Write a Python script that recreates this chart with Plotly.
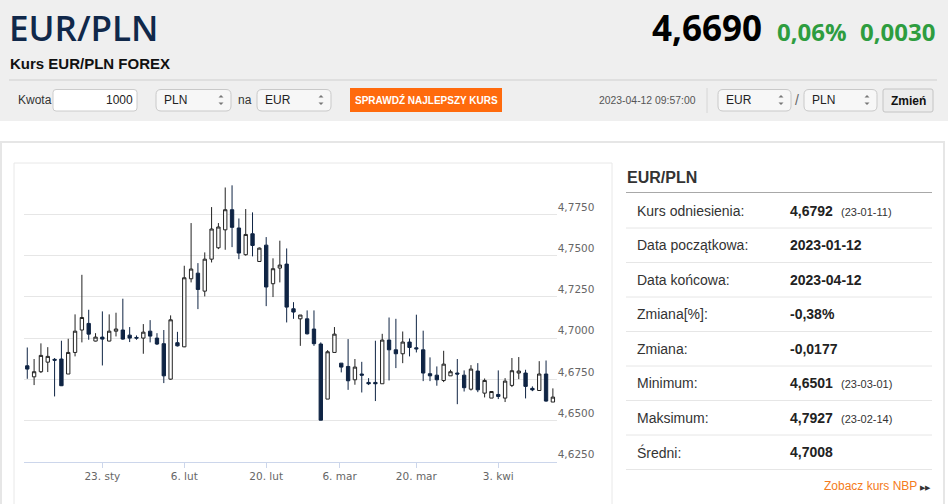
import numpy as np
import plotly.graph_objects as go

W, H = 948, 504

# ─────────────────────────────────────────────
# DANE
# ─────────────────────────────────────────────

DATES = [
    "2023-01-10", "2023-01-11", "2023-01-12", "2023-01-13", "2023-01-15", "2023-01-16",
    "2023-01-17", "2023-01-18", "2023-01-19", "2023-01-20", "2023-01-22", "2023-01-23",
    "2023-01-24", "2023-01-25", "2023-01-26", "2023-01-27", "2023-01-29", "2023-01-30",
    "2023-01-31", "2023-02-01", "2023-02-02", "2023-02-03", "2023-02-05", "2023-02-06",
    "2023-02-07", "2023-02-08", "2023-02-09", "2023-02-10", "2023-02-12", "2023-02-13",
    "2023-02-14", "2023-02-15", "2023-02-16", "2023-02-17", "2023-02-19", "2023-02-20",
    "2023-02-21", "2023-02-22", "2023-02-23", "2023-02-24", "2023-02-26", "2023-02-27",
    "2023-02-28", "2023-03-01", "2023-03-02", "2023-03-03", "2023-03-07", "2023-03-08",
    "2023-03-09", "2023-03-10", "2023-03-12", "2023-03-13", "2023-03-14", "2023-03-15",
    "2023-03-16", "2023-03-17", "2023-03-19", "2023-03-20", "2023-03-21", "2023-03-22",
    "2023-03-23", "2023-03-24", "2023-03-26", "2023-03-27", "2023-03-28", "2023-03-29",
    "2023-03-30", "2023-03-31", "2023-04-02", "2023-04-03", "2023-04-04", "2023-04-05",
    "2023-04-06", "2023-04-07", "2023-04-09", "2023-04-10", "2023-04-11", "2023-04-12",
]

OPEN = [
    4.6832, 4.6765, 4.6796, 4.6854, 4.6871, 4.6873, 4.6782, 4.6913, 4.7049, 4.7089,
    4.6982, 4.7006, 4.6982, 4.7042, 4.7049, 4.7018, 4.7004, 4.7000, 4.7042, 4.7000,
    4.6966, 4.6751, 4.6972, 4.6947, 4.7360, 4.7394, 4.7285, 4.7479, 4.7548, 4.7657,
    4.7779, 4.7668, 4.7506, 4.7633, 4.7465, 4.7564, 4.7330, 4.7425, 4.7449, 4.7178,
    4.7117, 4.7117, 4.7055, 4.6964, 4.6630, 4.6913, 4.6848, 4.6828, 4.6747, 4.6782,
    4.6731, 4.6731, 4.6723, 4.6988, 4.6929, 4.6905, 4.6976, 4.6941, 4.6929, 4.6784,
    4.6775, 4.6743, 4.6771, 4.6788, 4.6775, 4.6690, 4.6800, 4.6666, 4.6636, 4.6658,
    4.6636, 4.6713, 4.6788, 4.6788, 4.6695, 4.6682, 4.6782, 4.6612,
]
HIGH = [
    4.6943, 4.6873, 4.6968, 4.6945, 4.6879, 4.6984, 4.6996, 4.7144, 4.7384, 4.7172,
    4.7030, 4.7162, 4.7144, 4.7154, 4.7239, 4.7067, 4.7016, 4.7085, 4.7109, 4.7030,
    4.7049, 4.7138, 4.7038, 4.7439, 4.7698, 4.7455, 4.7520, 4.7795, 4.7698, 4.7914,
    4.7927, 4.7726, 4.7783, 4.7763, 4.7550, 4.7613, 4.7484, 4.7591, 4.7544, 4.7218,
    4.7140, 4.7168, 4.7168, 4.6974, 4.6927, 4.7067, 4.6848, 4.6994, 4.6873, 4.6856,
    4.6757, 4.6984, 4.7026, 4.7125, 4.7117, 4.7040, 4.6998, 4.7142, 4.7045, 4.6883,
    4.6828, 4.6923, 4.6808, 4.6873, 4.6804, 4.6836, 4.6848, 4.6755, 4.6676, 4.6804,
    4.6757, 4.6879, 4.6885, 4.6808, 4.6707, 4.6860, 4.6864, 4.6695,
]
LOW = [
    4.6753, 4.6715, 4.6788, 4.6794, 4.6646, 4.6709, 4.6782, 4.6889, 4.6974, 4.6990,
    4.6980, 4.6834, 4.6980, 4.7010, 4.6990, 4.6976, 4.6990, 4.6905, 4.6974, 4.6958,
    4.6727, 4.6747, 4.6949, 4.6945, 4.7338, 4.7176, 4.7253, 4.7459, 4.7540, 4.7536,
    4.7552, 4.7479, 4.7500, 4.7496, 4.7463, 4.7194, 4.7249, 4.7338, 4.7095, 4.7117,
    4.6953, 4.7022, 4.6953, 4.6501, 4.6630, 4.6913, 4.6792, 4.6686, 4.6717, 4.6670,
    4.6715, 4.6618, 4.6723, 4.6743, 4.6818, 4.6848, 4.6889, 4.6913, 4.6739, 4.6739,
    4.6711, 4.6733, 4.6771, 4.6599, 4.6676, 4.6682, 4.6672, 4.6640, 4.6636, 4.6630,
    4.6612, 4.6703, 4.6751, 4.6634, 4.6678, 4.6682, 4.6614, 4.6612,
]
CLOSE = [
    4.6812, 4.6796, 4.6895, 4.6889, 4.6866, 4.6711, 4.6913, 4.7042, 4.7125, 4.7024,
    4.7006, 4.6994, 4.7042, 4.7055, 4.6994, 4.7000, 4.7000, 4.7036, 4.7012, 4.6964,
    4.6771, 4.7111, 4.6953, 4.7366, 4.7419, 4.7295, 4.7479, 4.7662, 4.7674, 4.7779,
    4.7672, 4.7516, 4.7629, 4.7562, 4.7546, 4.7310, 4.7421, 4.7443, 4.7188, 4.7158,
    4.7140, 4.7026, 4.6966, 4.6502, 4.6917, 4.7024, 4.6824, 4.6741, 4.6824, 4.6775,
    4.6723, 4.6723, 4.6988, 4.6929, 4.6905, 4.6976, 4.6943, 4.6935, 4.6788, 4.6771,
    4.6747, 4.6842, 4.6796, 4.6782, 4.6699, 4.6812, 4.6686, 4.6743, 4.6676, 4.6646,
    4.6739, 4.6802, 4.6800, 4.6707, 4.6686, 4.6782, 4.6618, 4.6642,
]

TICK_DATES = ["2023-01-23", "2023-02-06", "2023-02-20", "2023-03-06", "2023-03-20", "2023-04-03"]
TICK_TEXT = ["23. sty", "6. lut", "20. lut", "6. mar", "20. mar", "3. kwi"]
Y_TICKS = [4.625, 4.650, 4.675, 4.700, 4.725, 4.750, 4.775, 4.800]
Y_TEXT = ["4,6250", "4,6500", "4,6750", "4,7000", "4,7250", "4,7500", "4,7750", ""]

PARA = "EUR/PLN"
KURS = "4,6690"
ZMIANA_PROC = "0,06%"
ZMIANA_ABS = "0,0030"
CZAS = "2023-04-12 09:57:00"

ETYKIETY = ["Kurs odniesienia:", "Data początkowa:", "Data końcowa:", "Zmiana[%]:",
            "Zmiana:", "Minimum:", "Maksimum:", "Średni:"]
WARTOSCI = ["4,6792", "2023-01-12", "2023-04-12", "-0,38%", "-0,0177", "4,6501", "4,7927", "4,7008"]
DATY = ["(23-01-11)", "", "", "", "", "(23-03-01)", "(23-02-14)", ""]

ARIAL = "Liberation Sans, Arial, sans-serif"
OPEN_SANS = "Open Sans, sans-serif"
HC = "DejaVu Sans, Verdana, sans-serif"
OS_KOLOR = "#ccd6eb"
GRANAT = "#10284a"
ZIELONY = "#2e9d3f"


# ─────────────────────────────────────────────
# POMOCNICZE (piksele -> paper)
# ─────────────────────────────────────────────

def fx(x):
    return x / W


def fy(y):
    return 1 - y / H


shapes = []
annotations = []


def rect(x0, y0, x1, y1, fill, line=None, lw=1):
    shapes.append(dict(
        type="rect", xref="paper", yref="paper", layer="below",
        x0=fx(x0), x1=fx(x1), y0=fy(y1), y1=fy(y0),
        fillcolor=fill, line=dict(color=line or "rgba(0,0,0,0)", width=lw if line else 0),
    ))


def rrect(x0, y0, x1, y1, r, fill, line):
    p = (f"M{fx(x0 + r)},{fy(y0)} L{fx(x1 - r)},{fy(y0)} Q{fx(x1)},{fy(y0)} {fx(x1)},{fy(y0 + r)} "
         f"L{fx(x1)},{fy(y1 - r)} Q{fx(x1)},{fy(y1)} {fx(x1 - r)},{fy(y1)} "
         f"L{fx(x0 + r)},{fy(y1)} Q{fx(x0)},{fy(y1)} {fx(x0)},{fy(y1 - r)} "
         f"L{fx(x0)},{fy(y0 + r)} Q{fx(x0)},{fy(y0)} {fx(x0 + r)},{fy(y0)} Z")
    shapes.append(dict(type="path", xref="paper", yref="paper", layer="below", path=p,
                       fillcolor=fill, line=dict(color=line, width=1)))


def hline(x0, x1, y, color, lw=1):
    shapes.append(dict(type="line", xref="paper", yref="paper", layer="below",
                       x0=fx(x0), x1=fx(x1), y0=fy(y), y1=fy(y),
                       line=dict(color=color, width=lw)))


def vline(x, y0, y1, color, lw=1):
    shapes.append(dict(type="line", xref="paper", yref="paper", layer="below",
                       x0=fx(x), x1=fx(x), y0=fy(y0), y1=fy(y1),
                       line=dict(color=color, width=lw)))


def txt(x, y, s, size, color="#333", family=ARIAL, anchor="left", weight="normal"):
    annotations.append(dict(
        xref="paper", yref="paper", x=fx(x), y=fy(y), text=s, showarrow=False,
        xanchor=anchor, yanchor="middle", borderpad=0,
        font=dict(size=size, color=color, family=family, weight=weight),
    ))


def select(x0, x1, label):
    rrect(x0, 89.5, x1, 111, 5, "#f7f7f7", "#c9c9c9")
    txt(x0 + 7, 100, label, 12, "#222")
    sx = x1 - 10
    for a, b in ((97.5, 95.0), (102.5, 105.0)):
        shapes.append(dict(type="path", xref="paper", yref="paper", layer="below",
                           path=f"M{fx(sx - 2.5)},{fy(a)} L{fx(sx + 2.5)},{fy(a)} L{fx(sx)},{fy(b)} Z",
                           fillcolor="#777", line=dict(width=0)))


# ─────────────────────────────────────────────
# NAGŁÓWEK
# ─────────────────────────────────────────────

rect(0, 0, W, 121, "#efefef")
hline(9, 937, 80, "#dadada", 1.5)

txt(8, 27, PARA, 35, GRANAT, OPEN_SANS, weight=600)
txt(9, 63, "Kurs EUR/PLN FOREX", 15, "#111", ARIAL, weight="bold")
txt(763, 27, KURS, 35, "#000", OPEN_SANS, anchor="right", weight="bold")
txt(848, 31, ZMIANA_PROC, 24, ZIELONY, OPEN_SANS, anchor="right", weight="bold")
txt(936, 31, ZMIANA_ABS, 24, ZIELONY, OPEN_SANS, anchor="right", weight="bold")

txt(17, 100, "Kwota", 12, "#333")
rrect(53, 89.5, 137, 111, 3, "white", "#cccccc")
txt(134, 100, "1000", 12, "#222", anchor="right")
select(156, 231, "PLN")
txt(237, 100, "na", 12, "#333")
select(257, 331, "EUR")
rect(350, 88, 502, 112, "#ff6a0d")
txt(426, 100, "SPRAWDŹ NAJLEPSZY KURS", 10, "white", anchor="center", weight="bold")

txt(598, 101, CZAS, 10.4, "#555")
vline(707, 88, 113, "#d6d6d6")
select(718, 791, "EUR")
txt(797, 100, "/", 14, "#666", anchor="center")
select(804, 877, "PLN")
rrect(883, 89, 933, 112, 2, "#ececec", "#c4c4c4")
txt(908, 101, "Zmień", 12, "#111", anchor="center", weight="bold")

# ─────────────────────────────────────────────
# PANELE
# ─────────────────────────────────────────────

rect(1, 142, 944, 520, "white", "#e6e6e6", 2)
rect(14, 163, 612, 520, "white", "#e8e8e8", 1)

# tabela
txt(626, 177, PARA, 16, "#333", weight="bold")
hline(626, 932, 192.5, "#a8a8a8", 1.2)
for k in range(len(ETYKIETY)):
    y_sep = 228 + 34.5 * k
    y_mid = 210.5 + 34.5 * k
    hline(626, 932, y_sep, "#e6e6e6")
    txt(636, y_mid, ETYKIETY[k], 14, "#333")
    txt(789, y_mid, WARTOSCI[k], 14, "#222", weight="bold")
    if DATY[k]:
        txt(840, y_mid + 1, DATY[k], 11, "#333")

txt(932, 486, "Zobacz kurs NBP <span style='color:#333;font-size:7px'>▶▶</span>",
    12, "#f47b20", anchor="right")

# ─────────────────────────────────────────────
# WYKRES
# ─────────────────────────────────────────────

ord_all = np.array([np.datetime64(d).astype(int) for d in DATES])
ord_tick = np.array([np.datetime64(d).astype(int) for d in TICK_DATES])
tick_pos = list(np.interp(ord_tick, ord_all, np.arange(len(DATES))))

fig = go.Figure(go.Candlestick(
    x=DATES, open=OPEN, high=HIGH, low=LOW, close=CLOSE,
    increasing=dict(fillcolor="white", line=dict(color="#222222", width=1)),
    decreasing=dict(fillcolor="#0f2444", line=dict(color="#0f2444", width=1)),
    whiskerwidth=0,
    hoverinfo="skip",
))

fig.update_layout(
    width=W, height=H,
    margin=dict(l=0, r=0, t=0, b=0),
    paper_bgcolor="white",
    plot_bgcolor="rgba(0,0,0,0)",
    showlegend=False,
    shapes=shapes,
    annotations=annotations,
    xaxis=dict(
        domain=[fx(24), fx(556.7)],
        type="category",
        range=[-0.48, len(DATES) - 0.44],
        rangeslider=dict(visible=False),
        tickmode="array", tickvals=tick_pos, ticktext=TICK_TEXT,
        ticks="outside", ticklen=5, tickcolor=OS_KOLOR, tickwidth=1,
        showline=True, linecolor=OS_KOLOR, linewidth=1,
        showgrid=False, zeroline=False,
        tickfont=dict(family=HC, size=10.5, color="#666666"),
    ),
    yaxis=dict(
        domain=[fy(461.7), fy(173.3)],
        range=[4.625, 4.800],
        side="right",
        tickmode="array", tickvals=Y_TICKS, ticktext=Y_TEXT,
        ticks="", ticklabelposition="outside top",
        showgrid=True, gridcolor="#e6e6e6", gridwidth=1,
        zeroline=False, showline=False,
        tickfont=dict(family=HC, size=10.5, color="#666666"),
    ),
)

# strona bez marginesu body, żeby wykres zaczynał się w (0, 0)
fig.write_html("out.html", config={"displayModeBar": False},
               post_script="document.body.style.margin='0';")
